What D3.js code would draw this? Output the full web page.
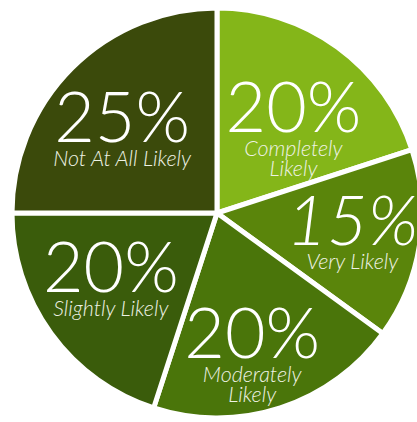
<!DOCTYPE html>
<html>
<head>
<meta charset="utf-8">
<script src="https://cdn.jsdelivr.net/npm/d3@7"></script>
<style>
  html, body { margin: 0; padding: 0; background: #ffffff; }
  svg { display: block; }
  .pct { font-family: Lato, "Open Sans", sans-serif; font-weight: 300; fill: #ffffff; }
  .lbl { font-family: Lato, "Open Sans", sans-serif; font-weight: 300; font-style: italic; fill: #eef2e4; }
</style>
</head>
<body>
<svg id="chart" width="417" height="422"></svg>
<script>
// Survey answers, in clockwise order starting at twelve o'clock
const categories = ["Completely Likely", "Very Likely", "Moderately Likely", "Slightly Likely", "Not At All Likely"];
const shares = [20, 15, 20, 20, 25];
const labelLines = [["Completely", "Likely"], ["Very Likely"], ["Moderately", "Likely"], ["Slightly Likely"], ["Not At All Likely"]];
const sliceColors = ["#84b619", "#5a850b", "#4a750a", "#3a5c0b", "#3b4a0b"];

// Layout
const W = 417, H = 422;
const cx = 217, cy = 213, R = 205;
const labelR = 130;
// small hand adjustments of each label block around its centroid
const labelNudge = {
  "Completely Likely": [0, 24],
  "Very Likely": [7, 12],
  "Moderately Likely": [-5, 21],
  "Slightly Likely": [-1, 3],
  "Not At All Likely": [-3, 21]
};
const italicPct = { "Very Likely": true };

const svg = d3.select("#chart");
const g = svg.append("g").attr("transform", `translate(${cx},${cy})`);

const data = categories.map((c, i) => ({ name: c, value: shares[i], lines: labelLines[i], color: sliceColors[i] }));

const pie = d3.pie().value(d => d.value).sort(null);
const arc = d3.arc().innerRadius(0).outerRadius(R);
const labelArc = d3.arc().innerRadius(labelR).outerRadius(labelR);

const arcs = pie(data);

g.selectAll("path.slice")
  .data(arcs)
  .join("path")
  .attr("class", "slice")
  .attr("d", arc)
  .attr("fill", d => d.data.color)
  .attr("stroke", "#ffffff")
  .attr("stroke-width", 5)
  .attr("stroke-linejoin", "miter");

const labels = g.selectAll("g.label")
  .data(arcs)
  .join("g")
  .attr("class", "label")
  .attr("transform", d => {
    const [x, y] = labelArc.centroid(d);
    const [nx, ny] = labelNudge[d.data.name];
    return `translate(${x + nx},${y + ny})`;
  });

labels.append("text")
  .attr("class", "pct")
  .attr("text-anchor", "middle")
  .attr("font-size", 70)
  .style("font-style", d => italicPct[d.data.name] ? "italic" : "normal")
  .text(d => d3.format(".0f")(d.value) + "%");

labels.each(function(d) {
  const sel = d3.select(this);
  d.data.lines.forEach((line, i) => {
    sel.append("text")
      .attr("class", "lbl")
      .attr("text-anchor", "middle")
      .attr("font-size", 21.5)
      .attr("y", 24 + i * 20)
      .text(line);
  });
});
</script>
</body>
</html>
